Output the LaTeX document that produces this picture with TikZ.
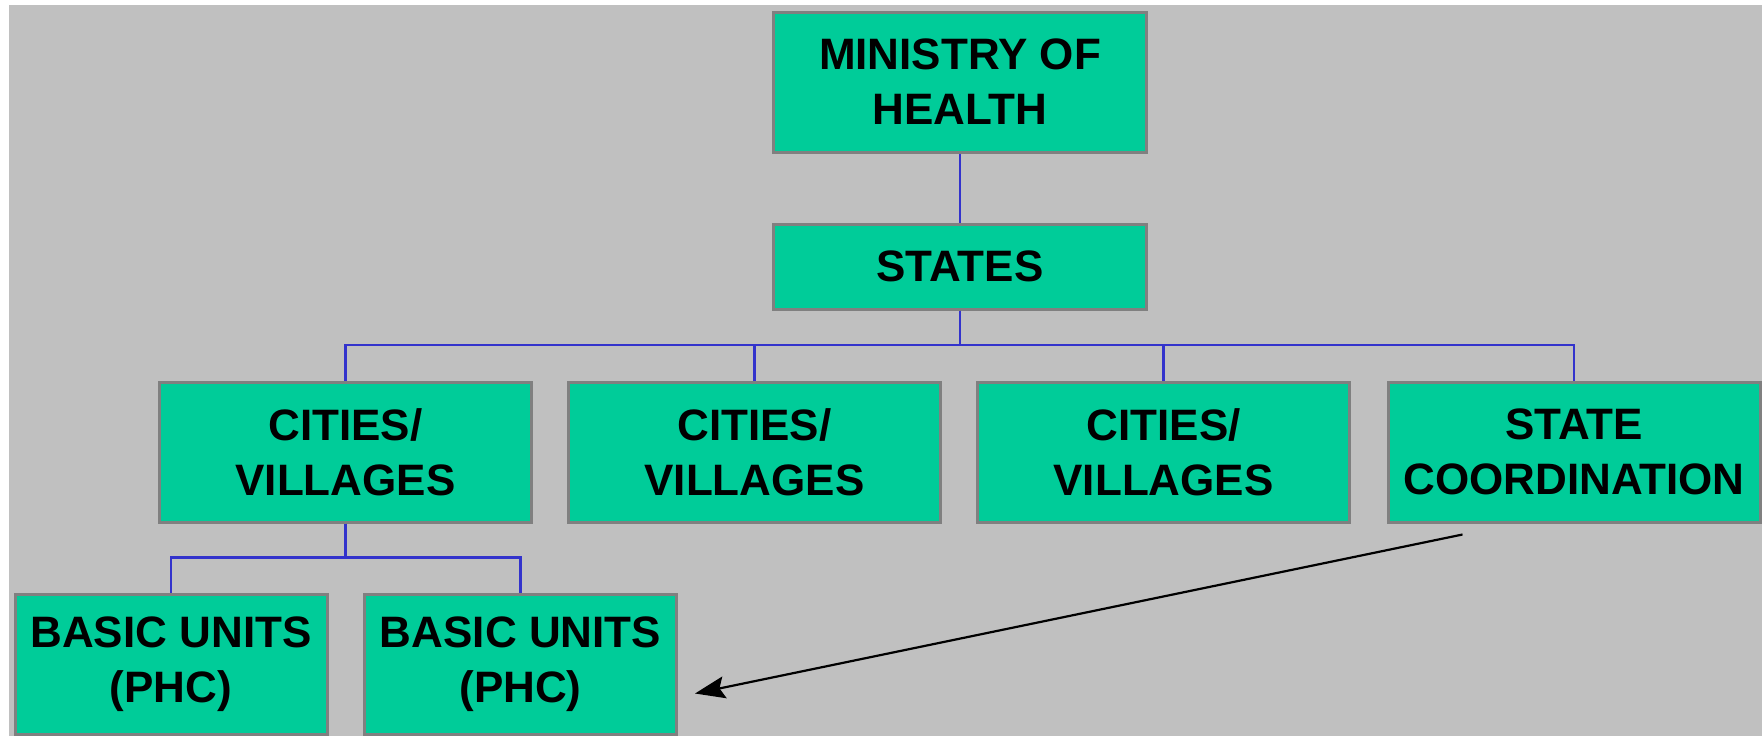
\documentclass[tikz,border=0pt]{standalone}
\usepackage{fontspec}
\setmainfont{Liberation Sans}
\usetikzlibrary{arrows.meta}
\definecolor{bggray}{HTML}{C0C0C0}
\definecolor{boxgreen}{HTML}{00CC99}
\definecolor{boxborder}{HTML}{808080}
\definecolor{linkblue}{HTML}{3333CC}
\begin{document}
\begin{tikzpicture}[x=0.5pt,y=-0.5pt,
  orgbox/.style={draw=boxborder, line width=1.5pt, fill=boxgreen, align=center,
    inner sep=0pt, font=\bfseries\fontsize{22pt}{27.5pt}\selectfont},
  link/.style={draw=linkblue, line width=1.4pt},
  pointer/.style={draw=black, line width=1.1pt, -{Stealth[length=15pt,width=11pt,inset=2.5pt]}}]
\useasboundingbox (0,0) rectangle (1762,736);
\fill[white] (0,0) rectangle (1762,736);
\fill[bggray] (9,5) rectangle (1762,736);
% boxes
\node[orgbox, minimum width=186.5pt, minimum height=70pt] (min) at (960,82) {MINISTRY OF\\HEALTH};
\node[orgbox, minimum width=186.5pt, minimum height=42.5pt] (st) at (960,266.5) {STATES};
\node[orgbox, minimum width=185.75pt, minimum height=70pt] (c1) at (345.5,452) {CITIES/\\VILLAGES};
\node[orgbox, minimum width=185.75pt, minimum height=70pt] (c2) at (754.5,452) {CITIES/\\VILLAGES};
\node[orgbox, minimum width=185.75pt, minimum height=70pt] (c3) at (1163.6,452) {CITIES/\\VILLAGES};
\node[orgbox, minimum width=186pt, minimum height=70pt] (sc) at (1574,452) {STATE\\COORDINATION};
\node[orgbox, minimum width=156pt, minimum height=70pt] (b1) at (171,664) {BASIC UNITS\\(PHC)};
\node[orgbox, minimum width=156pt, minimum height=70pt] (b2) at (520.5,664) {BASIC UNITS\\(PHC)};
% bus coordinates
\coordinate (busA) at (960,345);
\coordinate (busB) at (345.5,557.5);
% connectors
\draw[link] (min.south) -- (st.north);
\draw[link] (st.south) -- (st.south |- busA) -| (c1.north);
\draw[link] (st.south) -- (st.south |- busA) -| (c2.north);
\draw[link] (st.south) -- (st.south |- busA) -| (c3.north);
\draw[link] (st.south) -- (st.south |- busA) -| (sc.north);
\draw[link] (c1.south) -- (c1.south |- busB) -| (b1.north);
\draw[link] (c1.south) -- (c1.south |- busB) -| (b2.north);
% arrow
\coordinate (arrtail) at (1462.5,534.5);
\coordinate (arrtip) at (695,693.5);
\draw[pointer] (arrtail) -- (arrtip);
\end{tikzpicture}
\end{document}
